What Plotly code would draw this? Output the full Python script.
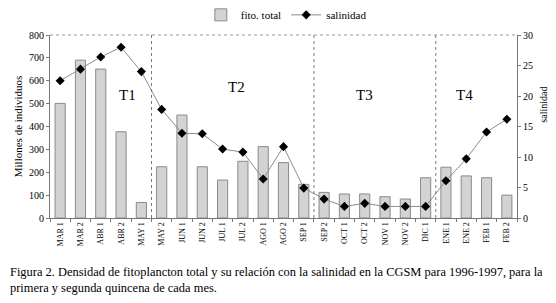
import plotly.graph_objects as go

categories = ["MAR 1", "MAR 2", "ABR 1", "ABR 2", "MAY 1", "MAY 2", "JUN 1", "JUN 2",
              "JUL 1", "JUL 2", "AGO 1", "AGO 2", "SEP 1", "SEP 2", "OCT 1", "OCT 2",
              "NOV 1", "NOV 2", "DIC 1", "ENE 1", "ENE 2", "FEB 1", "FEB 2"]
fito_total = [501, 690, 651, 377, 68, 224, 450, 224, 166, 248, 312, 242, 147, 112,
              105, 105, 93, 83, 176, 222, 184, 176, 100]
salinidad = [22.5, 24.4, 26.4, 28.0, 24.0, 17.8, 13.9, 13.8, 11.3, 10.8, 6.4, 11.7,
             4.9, 3.1, 1.9, 2.4, 1.9, 1.9, 1.9, 6.1, 9.7, 14.1, 16.2]
period_labels = ["T1", "T2", "T3", "T4"]
period_label_pos = [(3.34, 538), (8.7, 572), (15.0, 538), (19.9, 538)]
period_boundaries = [4.5, 12.5, 18.5]

FONT = "Liberation Serif, Times New Roman, serif"

fig = go.Figure()
fig.add_trace(go.Bar(
    x=categories, y=fito_total, name="fito. total",
    marker=dict(color="#d3d3d3", line=dict(color="#8a8a8a", width=1)),
    width=0.5,
))
fig.add_trace(go.Scatter(
    x=categories, y=salinidad, name="salinidad", yaxis="y2",
    mode="lines+markers",
    line=dict(color="#8c8c8c", width=1),
    marker=dict(symbol="diamond", size=7, color="black"),
))

shapes = []
for b in period_boundaries:
    shapes.append(dict(type="line", xref="x", yref="paper", x0=b, x1=b, y0=0, y1=1,
                       line=dict(color="#777777", width=1, dash="dot")))
shapes.append(dict(type="line", xref="paper", yref="paper", x0=0, x1=1, y0=1, y1=1,
                   line=dict(color="#999999", width=1, dash="dot")))

annotations = []
for lab, (px, py) in zip(period_labels, period_label_pos):
    annotations.append(dict(x=px, y=py, xref="x", yref="y", text=lab, showarrow=False,
                            font=dict(family=FONT, size=15, color="black")))
annotations.append(dict(
    xref="paper", yref="paper", x=-0.0899, y=-0.245, xanchor="left", yanchor="top",
    align="left", showarrow=False,
    text="Figura 2. Densidad de fitoplancton total y su relación con la salinidad en la CGSM para 1996-1997, para la<br>primera y segunda quincena de cada mes.",
    font=dict(family=FONT, size=12.45, color="black"),
))
annotations.append(dict(
    xref="paper", yref="paper", x=1.056, y=0.62, xanchor="center", yanchor="middle",
    textangle=-90, showarrow=False, text="salinidad",
    font=dict(family=FONT, size=10, color="black"),
))

fig.update_layout(
    width=548, height=295,
    margin=dict(l=42, r=39, t=27, b=85, autoexpand=False),
    paper_bgcolor="white", plot_bgcolor="white",
    font=dict(family=FONT, size=10, color="black"),
    showlegend=True,
    legend=dict(orientation="h", x=0.323, y=1.11, xanchor="left", yanchor="middle",
                font=dict(family=FONT, size=11), bgcolor="rgba(0,0,0,0)",
                itemwidth=30, tracegroupgap=0),
    xaxis=dict(
        type="category", tickangle=-90, tickfont=dict(family=FONT, size=8),
        showline=True, linecolor="#777777", linewidth=1,
        ticks="outside", ticklen=3, tickcolor="#777777", tickson="boundaries",
        showgrid=False, range=[-0.5, 22.5],
    ),
    yaxis=dict(
        range=[0, 800], dtick=100, showgrid=False,
        showline=True, linecolor="#777777", linewidth=1,
        ticks="outside", ticklen=3, tickcolor="#777777",
        tickfont=dict(family=FONT, size=10),
        title=dict(text="Millones de individuos", font=dict(family=FONT, size=11), standoff=4),
        zeroline=False,
    ),
    yaxis2=dict(
        range=[0, 30], dtick=5, overlaying="y", side="right", showgrid=False,
        showline=True, linecolor="#777777", linewidth=1,
        ticks="outside", ticklen=3, tickcolor="#777777",
        tickfont=dict(family=FONT, size=10),
        zeroline=False,
    ),
    shapes=shapes,
    annotations=annotations,
)

fig.write_html("out.html")
